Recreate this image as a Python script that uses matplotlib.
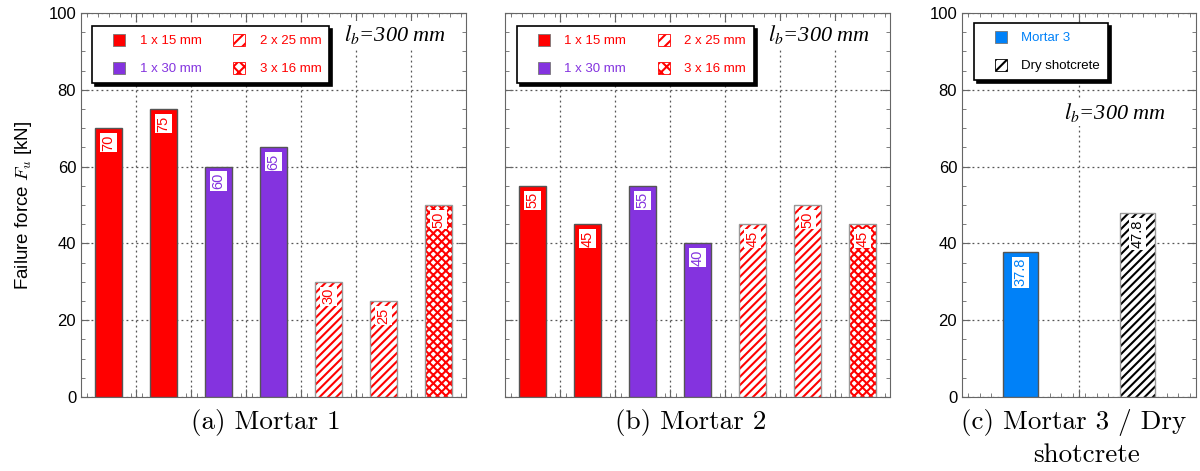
import numpy as np
import matplotlib
matplotlib.use("Agg")
import matplotlib.pyplot as plt
from matplotlib.patches import Patch, Rectangle
from matplotlib.legend_handler import HandlerPatch
from matplotlib.ticker import FixedLocator, MultipleLocator

# Daten
mortar1_types = ["1x15", "1x15", "1x30", "1x30", "2x25", "2x25", "3x16"]
mortar1_vals = [70, 75, 60, 65, 30, 25, 50]
mortar2_types = ["1x15", "1x15", "1x30", "1x30", "2x25", "2x25", "3x16"]
mortar2_vals = [55, 45, 55, 40, 45, 50, 45]
mortar3_types = ["m3", "dry"]
mortar3_vals = [37.8, 47.8]

legend_ab = [("1x15", "1 x 15 mm"), ("1x30", "1 x 30 mm"),
             ("2x25", "2 x 25 mm"), ("3x16", "3 x 16 mm")]
legend_c = [("m3", "Mortar 3"), ("dry", "Dry shotcrete")]

captions = ["(a) Mortar 1", "(b) Mortar 2", "(c) Mortar 3 / Dry"]

RED = "#ff0000"
PURPLE = "#8433df"
BLUE = "#0081f8"
# typ -> (Fuellfarbe, Schraffur, Textfarbe)
styles = {
    "1x15": (RED, None, RED),
    "1x30": (PURPLE, None, PURPLE),
    "2x25": ("white", "////", RED),
    "3x16": ("white", "xxxx", RED),
    "m3": (BLUE, None, BLUE),
    "dry": ("white", "////", "black"),
}

plt.rcParams["font.family"] = ["Liberation Sans", "DejaVu Sans"]
plt.rcParams["hatch.linewidth"] = 1.5

fig = plt.figure(figsize=(12, 4.71), dpi=100)
bot, h = 74 / 471, 384 / 471
ax_a = fig.add_axes([81 / 1200, bot, 385 / 1200, h])
ax_b = fig.add_axes([505 / 1200, bot, 385 / 1200, h])
ax_c = fig.add_axes([962 / 1200, bot, 234 / 1200, h])

SPINE = "#666666"


def draw_bars(ax, types, vals, width):
    x = np.arange(len(vals))
    for xi, t, v in zip(x, types, vals):
        fc, hatch, tc = styles[t]
        if hatch is None:
            ax.bar(xi, v, width, color=fc, edgecolor="#555555", linewidth=1, zorder=3)
        else:
            ax.bar(xi, v, width, color="white", edgecolor=tc, hatch=hatch, linewidth=0, zorder=3)
            ax.bar(xi, v, width, fill=False, edgecolor="#999999", linewidth=1, zorder=3)
        ax.annotate(f"{v:g}", xy=(xi, v), xytext=(0, -4.5), textcoords="offset points",
                    rotation=90, ha="center", va="top", fontsize=10.5, color=tc, zorder=5,
                    bbox=dict(facecolor="white", edgecolor="none", pad=1.0))


def style_axes(ax, n, minor_step):
    ax.set_xlim(-0.5, n - 0.5)
    ax.set_ylim(0, 100)
    ax.xaxis.set_major_locator(FixedLocator(np.arange(0.5, n - 0.5, 1)))
    ax.xaxis.set_minor_locator(FixedLocator(np.arange(-0.5 + minor_step / 2, n - 0.5, minor_step)))
    ax.yaxis.set_major_locator(MultipleLocator(20))
    ax.yaxis.set_minor_locator(MultipleLocator(5))
    ax.set_xticklabels([])
    ax.tick_params(which="both", direction="in", top=True, right=True, color=SPINE)
    ax.tick_params(which="major", length=6, labelsize=12)
    ax.tick_params(which="minor", length=3)
    ax.grid(True, which="major", linestyle=(0, (1.5, 2.5)), color="#555555", linewidth=0.9)
    ax.set_axisbelow(True)
    for s in ax.spines.values():
        s.set_color(SPINE)


def square_right(legend, orig_handle, xdescent, ydescent, width, height, fontsize):
    # kleines Quadrat am rechten Rand der Symbolbox
    size = 12 * 72 / 100
    return Rectangle((width - size - xdescent, (height - size) / 2 - ydescent), size, size)


def make_legend(ax, entries, ncol, anchor, colsp):
    handles = []
    for t, lab in entries:
        fc, hatch, tc = styles[t]
        if hatch is None:
            handles.append(Patch(facecolor=fc, edgecolor="#777777", linewidth=0.6, label=lab))
        else:
            handles.append(Patch(facecolor="white", edgecolor=tc, hatch=hatch[:3],
                                 linewidth=0.6, label=lab))
    leg = ax.legend(handles=handles, ncol=ncol, loc="upper left", bbox_to_anchor=anchor,
                    borderaxespad=0, fontsize=9.5, fancybox=False, framealpha=1,
                    edgecolor="black", handlelength=1.9, handleheight=1.0,
                    columnspacing=colsp, handletextpad=1.1, borderpad=0.6, labelspacing=1.1,
                    handler_map={Patch: HandlerPatch(patch_func=square_right)},
                    shadow={"color": "black", "alpha": 1})
    leg.get_frame().set_linewidth(1.2)
    for txt, (t, _) in zip(leg.get_texts(), entries):
        txt.set_color(styles[t][2])
    leg.set_zorder(10)
    return leg


draw_bars(ax_a, mortar1_types, mortar1_vals, 0.5)
draw_bars(ax_b, mortar2_types, mortar2_vals, 0.5)
draw_bars(ax_c, mortar3_types, mortar3_vals, 0.3)

style_axes(ax_a, len(mortar1_vals), 0.2)
style_axes(ax_b, len(mortar2_vals), 0.2)
style_axes(ax_c, len(mortar3_vals), 0.1)
ax_b.set_yticklabels([])

make_legend(ax_a, legend_ab, 2, (0.029, 0.966), 1.4)
make_legend(ax_b, legend_ab, 2, (0.031, 0.966), 1.4)
make_legend(ax_c, legend_c, 1, (0.051, 0.974), 1.4)

ax_a.set_ylabel("Failure force $F_u$ [kN]", fontsize=13.5, math_fontfamily="cm", labelpad=10)

lb_kw = dict(fontsize=16, fontfamily="Liberation Serif", style="italic",
             math_fontfamily="stix", ha="center", va="center", zorder=11,
             bbox=dict(facecolor="white", edgecolor="none", pad=2))
ax_a.text(0.815, 0.943, "$l_b$=300 mm", transform=ax_a.transAxes, **lb_kw)
ax_b.text(0.815, 0.943, "$l_b$=300 mm", transform=ax_b.transAxes, **lb_kw)
ax_c.text(0.654, 0.742, "$l_b$=300 mm", transform=ax_c.transAxes, **lb_kw)

cap_kw = dict(fontsize=19.5, fontfamily="cmr10", ha="center", va="center")
fig.text(266 / 1200, 1 - 423 / 471, captions[0], **cap_kw)
fig.text(691 / 1200, 1 - 423 / 471, captions[1], **cap_kw)
fig.text(1074 / 1200, 1 - 423 / 471, captions[2], **cap_kw)
fig.text(1087 / 1200, 1 - 455 / 471, "shotcrete", **cap_kw)

fig.savefig("out.png", dpi=100)
